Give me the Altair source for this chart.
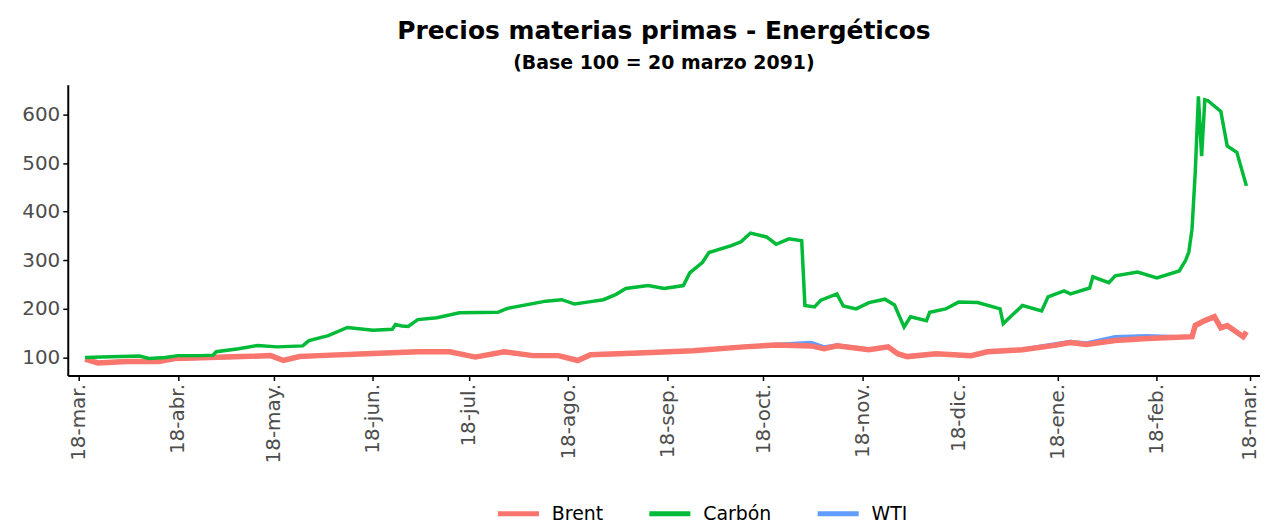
import altair as alt
import pandas as pd

title_text = "Precios materias primas - Energéticos"
subtitle_text = "(Base 100 = 20 marzo 2091)"
series_names = ["Brent", "Carbón", "WTI"]
series_colors = ["#F8766D", "#00BA38", "#619CFF"]
month_abbr = ["ene.", "feb.", "mar.", "abr.", "may.", "jun.", "jul.", "ago.",
              "sep.", "oct.", "nov.", "dic."]
tick_dates = ["2091-03-18", "2091-04-18", "2091-05-18", "2091-06-18", "2091-07-18",
              "2091-08-18", "2091-09-18", "2091-10-18", "2091-11-18", "2091-12-18",
              "2092-01-18", "2092-02-18", "2092-03-18"]
y_ticks = [100, 200, 300, 400, 500, 600]

carbon_dates = [
    "2091-03-20", "2091-03-25", "2091-03-31", "2091-04-06", "2091-04-09", "2091-04-14",
    "2091-04-18", "2091-04-25", "2091-04-29", "2091-04-30", "2091-05-07", "2091-05-13",
    "2091-05-19", "2091-05-27", "2091-05-29", "2091-06-04", "2091-06-10", "2091-06-18",
    "2091-06-24", "2091-06-25", "2091-06-27", "2091-06-29", "2091-07-02", "2091-07-08",
    "2091-07-15", "2091-07-27", "2091-07-30", "2091-08-11", "2091-08-16", "2091-08-20",
    "2091-08-24", "2091-08-29", "2091-09-02", "2091-09-05", "2091-09-12", "2091-09-17",
    "2091-09-23", "2091-09-25", "2091-09-29", "2091-10-01", "2091-10-08", "2091-10-11",
    "2091-10-14", "2091-10-19", "2091-10-22", "2091-10-26", "2091-10-30", "2091-10-31",
    "2091-11-03", "2091-11-05", "2091-11-10", "2091-11-12", "2091-11-16", "2091-11-20",
    "2091-11-25", "2091-11-28", "2091-12-01", "2091-12-03", "2091-12-08", "2091-12-09",
    "2091-12-14", "2091-12-18", "2091-12-24", "2091-12-31", "2092-01-01", "2092-01-07",
    "2092-01-13", "2092-01-15", "2092-01-20", "2092-01-22", "2092-01-28", "2092-01-29",
    "2092-02-03", "2092-02-05", "2092-02-12", "2092-02-18", "2092-02-25", "2092-02-27",
    "2092-02-28", "2092-02-29", "2092-03-01", "2092-03-02", "2092-03-03", "2092-03-04",
    "2092-03-05", "2092-03-09", "2092-03-11", "2092-03-14", "2092-03-17",
]
carbon_values = [
    100, 101, 102, 103, 98, 100,
    104, 104, 105, 112, 118, 125,
    122, 124, 135, 145, 162, 156,
    158, 168, 165, 164, 178, 182,
    192, 193, 201, 216, 219, 210,
    214, 219, 230, 242, 248, 242,
    248, 274, 296, 316, 330, 338,
    356, 348, 333, 344, 340, 207,
    204, 218, 231, 206, 200, 213,
    220, 208, 163, 184, 176, 193,
    200, 214, 213, 200, 170, 207,
    196, 225, 237, 231, 243, 266,
    254, 268, 276, 264, 278, 300,
    317, 364, 480, 637, 514, 630,
    628, 606, 535, 522, 453,
]

oil_dates = [
    "2091-03-20", "2091-03-24", "2091-04-02", "2091-04-12", "2091-04-17", "2091-04-28",
    "2091-05-08", "2091-05-17", "2091-05-21", "2091-05-26", "2091-06-01", "2091-06-16",
    "2091-07-02", "2091-07-12", "2091-07-20", "2091-07-29", "2091-08-07", "2091-08-15",
    "2091-08-21", "2091-08-25", "2091-09-11", "2091-09-26", "2091-10-12", "2091-10-22",
    "2091-11-02", "2091-11-06", "2091-11-10", "2091-11-20", "2091-11-26", "2091-11-29",
    "2091-12-02", "2091-12-11", "2091-12-22", "2091-12-27", "2092-01-07", "2092-01-17",
    "2092-01-22", "2092-01-27", "2092-02-05", "2092-02-15", "2092-02-29", "2092-03-01",
    "2092-03-04", "2092-03-07", "2092-03-09", "2092-03-11", "2092-03-16", "2092-03-17",
]
brent_values = [
    97, 89, 92, 92, 98, 100,
    102, 104, 94, 102, 104, 108,
    112, 112, 101, 112, 104, 104,
    94, 106, 110, 114, 122, 126,
    124, 118, 124, 116, 122, 108,
    102, 108, 104, 112, 116, 125,
    131, 127, 135, 139, 143, 166,
    176, 184, 161, 166, 143, 153,
]
wti_values = [
    98, 90, 93, 92, 97, 99,
    101, 103, 95, 101, 104, 109,
    111, 113, 100, 111, 104, 103,
    93, 105, 109, 114, 123, 127,
    131, 122, 126, 117, 121, 108,
    101, 107, 103, 111, 117, 128,
    133, 130, 143, 145, 142, 164,
    175, 182, 160, 164, 141, 150,
]

rows = []
for d, v in zip(oil_dates, brent_values):
    rows.append({"fecha": d, "valor": v, "serie": "Brent"})
for d, v in zip(carbon_dates, carbon_values):
    rows.append({"fecha": d, "valor": v, "serie": "Carbón"})
for d, v in zip(oil_dates, wti_values):
    rows.append({"fecha": d, "valor": v, "serie": "WTI"})
df = pd.DataFrame(rows)


def to_dt(s, hours=0):
    y, m, d = (int(p) for p in s.split("-"))
    return alt.DateTime(year=y, month=m, date=d, hours=hours, utc=True)


FONT = "DejaVu Sans"
month_list = "[" + ",".join("'" + m + "'" for m in month_abbr) + "]"

x_enc = alt.X(
    "fecha:T",
    scale=alt.Scale(type="utc", domain=[to_dt("2091-03-14", 14), to_dt("2092-03-21", 6)]),
    axis=alt.Axis(
        values=[to_dt(s) for s in tick_dates],
        labelExpr="'18-' + " + month_list + "[utcmonth(datum.value)]",
        labelAngle=-90,
        labelFontSize=20,
        title=None,
    ),
)
y_enc = alt.Y(
    "valor:Q",
    scale=alt.Scale(domain=[63, 661], nice=False, zero=False),
    axis=alt.Axis(values=y_ticks, title=None, minExtent=55, maxExtent=55, labelFontSize=20),
)
color_enc = alt.Color(
    "serie:N",
    scale=alt.Scale(domain=series_names, range=series_colors),
    legend=alt.Legend(
        title=None,
        orient="none",
        legendX=429,
        legendY=407,
        direction="horizontal",
        symbolType="stroke",
        symbolSize=1700,
        symbolStrokeWidth=5,
        labelFont=FONT,
        labelFontSize=19,
        labelColor="#000000",
        labelOffset=10,
        columnPadding=35,
    ),
)

base = alt.Chart(df).encode(x=x_enc, y=y_enc, color=color_enc)

wti = base.transform_filter(alt.datum.serie == "WTI").mark_line(strokeWidth=3.5)
brent = base.transform_filter(alt.datum.serie == "Brent").mark_line(strokeWidth=5.5)
carbon = base.transform_filter(alt.datum.serie == "Carbón").mark_line(strokeWidth=3.5)

chart = (
    alt.layer(wti, brent, carbon)
    .properties(
        width=1197,
        height=292,
        padding={"left": 5, "top": 10, "right": 0, "bottom": 0},
        title=alt.TitleParams(
            text=title_text,
            subtitle=subtitle_text,
            font=FONT,
            fontSize=25,
            fontWeight="bold",
            color="#000000",
            subtitleFont=FONT,
            subtitleFontSize=19,
            subtitleFontWeight="bold",
            subtitleColor="#000000",
            subtitlePadding=10,
            anchor="middle",
            offset=12,
        ),
    )
    .configure_view(stroke=None)
    .configure_axis(
        grid=False,
        domainColor="#000000",
        domainWidth=2,
        tickColor="#000000",
        tickWidth=1.5,
        tickSize=5,
        labelFont=FONT,
        labelFontSize=19,
        labelColor="#4D4D4D",
        labelPadding=3,
    )
)

chart.save("out.html", embed_options={"renderer": "svg", "actions": False})
